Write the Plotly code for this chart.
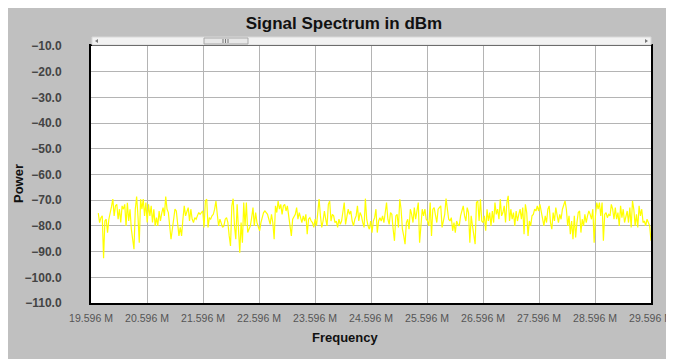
import plotly.graph_objects as go

START_FREQ = 19.726e6
STOP_FREQ = 29.596e6

POWER_DBM = [
    # 19.7 - 21.6 MHz
    -75.0, -78.7, -76.8, -76.1, -92.6, -78.1, -77.4, -82.6, -77.4, -75.5,
    -72.5, -69.6, -76.1, -72.2, -71.6, -77.4, -73.5, -78.7, -72.2, -73.5,
    -71.6, -80.0, -71.0, -78.1, -73.5, -81.3, -85.2, -89.1, -73.5, -68.6,
    -76.1, -86.5, -69.6, -73.5, -69.6, -76.1, -70.9, -78.7, -71.6, -76.1,
    -72.2, -78.7, -73.5, -80.0, -76.8, -80.0, -74.2, -78.1, -75.0, -72.9,
    -76.1, -68.6, -73.5, -74.8, -80.0, -85.2, -81.3, -77.0, -73.5, -74.2,
    -79.0, -83.9, -80.6, -83.9, -77.4, -72.2, -76.1, -74.0, -72.9, -78.1,
    -73.5, -77.4, -78.7, -76.8, -77.4, -76.0, -74.8, -75.5,
    # 21.6 - 23.6 MHz
    -74.8, -74.2, -80.6, -70.3, -69.6, -80.6, -76.8, -77.4, -76.1, -75.5,
    -73.5, -70.3, -75.5, -80.0, -77.4, -79.4, -80.6, -80.0, -77.4, -76.8,
    -78.7, -83.9, -87.8, -72.2, -69.4, -80.0, -85.2, -71.6, -82.6, -90.4,
    -78.7, -86.5, -70.9, -80.0, -70.9, -82.6, -81.3, -80.0, -76.8, -72.9,
    -80.0, -74.8, -78.7, -80.0, -81.9, -78.7, -76.1, -74.8, -74.2, -74.8,
    -75.5, -77.4, -79.4, -75.5, -78.7, -85.2, -72.2, -74.8, -70.3, -73.5,
    -71.6, -75.5, -72.2, -71.6, -74.2, -72.2, -76.8, -80.0, -83.9, -77.4,
    -76.1, -75.5, -72.9, -77.4, -74.8, -76.8, -78.7, -76.1, -78.1, -75.5,
    -83.2, -77.4, -76.8, -78.1, -78.7, -80.6,
    # 23.6 - 25.6 MHz
    -77.4, -80.0, -73.5, -69.6, -76.1, -80.6, -78.1, -74.2, -77.4, -80.0,
    -71.6, -70.3, -78.1, -75.5, -76.1, -78.7, -78.1, -80.6, -77.4, -79.4,
    -78.1, -74.2, -70.9, -79.4, -76.1, -73.5, -75.5, -74.2, -78.1, -80.0,
    -77.4, -76.1, -72.2, -78.1, -74.8, -76.1, -78.7, -80.6, -69.4, -77.4,
    -80.0, -81.3, -78.1, -82.6, -78.1, -76.8, -73.5, -82.6, -78.1, -76.8,
    -78.1, -76.1, -78.7, -73.5, -70.9, -77.4, -79.4, -74.8, -75.5, -81.3,
    -85.8, -76.1, -75.5, -80.6, -69.6, -73.5, -81.3, -83.9, -87.1, -78.7,
    -77.4, -81.3, -73.5, -75.5, -78.7, -72.9, -77.4, -74.2, -70.9, -86.5,
    -78.7, -73.5, -76.1, -73.5, -77.4, -78.1, -80.0,
    # 25.6 - 27.6 MHz
    -70.9, -83.9, -73.5, -72.9, -76.1, -78.7, -73.5, -72.9, -72.2, -80.6,
    -78.1, -75.5, -69.4, -73.5, -77.4, -78.1, -76.8, -81.9, -78.7, -82.6,
    -78.1, -79.4, -80.0, -76.1, -73.5, -72.2, -76.1, -78.1, -72.9, -74.8,
    -86.5, -76.1, -80.0, -84.5, -87.1, -70.9, -70.3, -78.1, -69.6, -78.1,
    -78.7, -76.1, -81.9, -73.5, -78.1, -74.8, -80.0, -74.2, -78.7, -70.9,
    -75.5, -73.5, -77.4, -69.6, -76.1, -74.8, -72.2, -78.7, -70.9, -68.3,
    -78.1, -73.5, -77.4, -74.8, -80.0, -74.2, -78.1, -75.5, -73.5, -77.4,
    -72.9, -83.2, -71.6, -74.8, -83.9, -78.1, -80.0, -76.1, -75.5, -73.5,
    -74.2, -72.2, -74.2, -71.6, -74.8, -76.8, -80.0,
    # 27.6 - 29.6 MHz
    -76.1, -78.7, -73.5, -72.2, -78.7, -81.3, -74.8, -78.1, -72.9, -76.1,
    -78.7, -75.5, -77.4, -73.5, -71.6, -70.3, -73.5, -80.0, -76.1, -83.2,
    -78.1, -85.2, -76.1, -84.5, -78.7, -74.8, -74.2, -82.6, -77.4, -80.0,
    -75.5, -78.7, -76.1, -74.2, -75.5, -77.4, -73.5, -86.5, -76.1, -70.9,
    -73.5, -70.9, -76.1, -70.9, -85.8, -75.5, -74.8, -76.8, -75.5, -76.1,
    -71.6, -73.5, -77.4, -72.9, -77.4, -74.8, -80.0, -72.2, -76.8, -73.5,
    -78.7, -76.8, -74.2, -78.7, -72.9, -80.6, -70.3, -73.5, -80.0, -75.5,
    -80.6, -72.2, -76.1, -73.5, -78.7, -78.1, -80.0, -77.4, -78.7, -80.0,
    -85.8,
]

X_TICK_VALUES = [19.596e6 + k * 1e6 for k in range(11)]
X_TICK_LABELS = [
    "19.596 M", "20.596 M", "21.596 M", "22.596 M", "23.596 M", "24.596 M",
    "25.596 M", "26.596 M", "27.596 M", "28.596 M", "29.596 M",
]
Y_TICK_VALUES = [-10, -20, -30, -40, -50, -60, -70, -80, -90, -100, -110]

n = len(POWER_DBM)
step = (STOP_FREQ - START_FREQ) / (n - 1)
freqs = [START_FREQ + i * step for i in range(n)]

PANEL_GRAY = "#c0c0c0"
GRID_GRAY = "#b4b4b4"
FONT = "Arial, Liberation Sans"
PAGE_OFFSET = 8  # the page body margin in front of the figure

fig = go.Figure()
fig.add_trace(
    go.Scatter(
        x=freqs,
        y=POWER_DBM,
        mode="lines",
        line=dict(color="#ffff00", width=1.2),
        showlegend=False,
        hoverinfo="skip",
    )
)


# plot area in page pixels: x 91..651, y 46..303
def px(x):
    return (x - 91) / 560


def py(y):
    return (303 - y) / 257


def tri(points):
    return "M " + " L ".join(f"{px(a)},{py(b)}" for a, b in points) + " Z"


shapes = [
    # scrollbar track
    dict(type="rect", xref="paper", yref="paper", x0=px(92), x1=px(651),
         y0=py(45), y1=py(37), fillcolor="#f2f2f2", line=dict(color="#d8d8d8", width=1)),
    # scrollbar thumb
    dict(type="rect", xref="paper", yref="paper", x0=px(204), x1=px(248),
         y0=py(44), y1=py(38), fillcolor="#e8e8e8", line=dict(color="#a8a8a8", width=1)),
    # scroll arrows
    dict(type="path", xref="paper", yref="paper", path=tri([(95, 41), (98, 39), (98, 43)]),
         fillcolor="#777777", line_width=0),
    dict(type="path", xref="paper", yref="paper", path=tri([(648, 41), (645, 39), (645, 43)]),
         fillcolor="#777777", line_width=0),
]
# grip marks on the thumb
for gx in (223, 225.5, 228):
    shapes.append(dict(type="line", xref="paper", yref="paper", x0=px(gx), x1=px(gx),
                       y0=py(43), y1=py(39), line=dict(color="#777777", width=1)))

annotations = [
    dict(text="<b>Power</b>", x=px(18), y=py(184), xref="paper", yref="paper",
         xanchor="center", yanchor="middle", textangle=-90, showarrow=False,
         font=dict(family=FONT, size=13, color="#111111")),
    dict(text="<b>Frequency</b>", x=px(345), y=py(337), xref="paper", yref="paper",
         xanchor="center", yanchor="middle", showarrow=False,
         font=dict(family=FONT, size=13, color="#111111")),
]

fig.update_layout(
    width=674,
    height=359,
    margin=dict(l=91 - PAGE_OFFSET, r=674 - (651 - PAGE_OFFSET),
                t=46 - PAGE_OFFSET, b=359 - (303 - PAGE_OFFSET), autoexpand=False),
    paper_bgcolor=PANEL_GRAY,
    plot_bgcolor="white",
    font=dict(family=FONT),
    title=dict(
        text="<b>Signal Spectrum in dBm</b>",
        x=(344 - PAGE_OFFSET) / 674,
        xanchor="center",
        xref="container",
        y=1 - (23 - PAGE_OFFSET) / 359,
        yanchor="middle",
        yref="container",
        font=dict(family=FONT, size=17, color="#111111"),
    ),
    xaxis=dict(
        range=[19.596e6, 29.596e6],
        tickvals=X_TICK_VALUES,
        ticktext=X_TICK_LABELS,
        tickfont=dict(size=10.5, color="#555555"),
        ticks="outside",
        ticklen=4,
        tickcolor=PANEL_GRAY,
        showgrid=True,
        gridcolor=GRID_GRAY,
        gridwidth=1,
        showline=True,
        linecolor="black",
        linewidth=2,
        mirror=True,
        zeroline=False,
        fixedrange=True,
        automargin=False,
    ),
    yaxis=dict(
        range=[-110, -10],
        tickvals=Y_TICK_VALUES,
        tickformat=".1f",
        tickfont=dict(size=12, color="#444444", weight="bold"),
        ticks="outside",
        ticklen=25,
        tickcolor=PANEL_GRAY,
        showgrid=True,
        gridcolor=GRID_GRAY,
        gridwidth=1,
        showline=True,
        linecolor="black",
        linewidth=2,
        mirror=True,
        zeroline=False,
        fixedrange=True,
        automargin=False,
    ),
    shapes=shapes,
    annotations=annotations,
)

fig.write_html("out.html", config=dict(displayModeBar=False),
               default_width="674px", default_height="359px")
